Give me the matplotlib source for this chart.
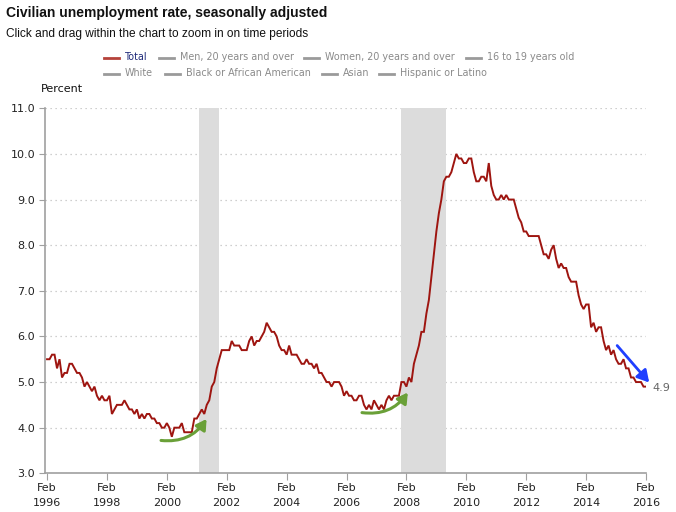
import matplotlib
matplotlib.use("Agg")
import matplotlib.pyplot as plt
from matplotlib.lines import Line2D

# ---------------- data ----------------
start_year = 1996
start_month = 2  # Feb 1996
rate = [
    5.5, 5.5, 5.6, 5.6, 5.3, 5.5, 5.1, 5.2, 5.2, 5.4, 5.4,                 # 1996
    5.3, 5.2, 5.2, 5.1, 4.9, 5.0, 4.9, 4.8, 4.9, 4.7, 4.6, 4.7,            # 1997
    4.6, 4.6, 4.7, 4.3, 4.4, 4.5, 4.5, 4.5, 4.6, 4.5, 4.4, 4.4,            # 1998
    4.3, 4.4, 4.2, 4.3, 4.2, 4.3, 4.3, 4.2, 4.2, 4.1, 4.1, 4.0,            # 1999
    4.0, 4.1, 4.0, 3.8, 4.0, 4.0, 4.0, 4.1, 3.9, 3.9, 3.9, 3.9,            # 2000
    4.2, 4.2, 4.3, 4.4, 4.3, 4.5, 4.6, 4.9, 5.0, 5.3, 5.5, 5.7,            # 2001
    5.7, 5.7, 5.7, 5.9, 5.8, 5.8, 5.8, 5.7, 5.7, 5.7, 5.9, 6.0,            # 2002
    5.8, 5.9, 5.9, 6.0, 6.1, 6.3, 6.2, 6.1, 6.1, 6.0, 5.8, 5.7,            # 2003
    5.7, 5.6, 5.8, 5.6, 5.6, 5.6, 5.5, 5.4, 5.4, 5.5, 5.4, 5.4,            # 2004
    5.3, 5.4, 5.2, 5.2, 5.1, 5.0, 5.0, 4.9, 5.0, 5.0, 5.0, 4.9,            # 2005
    4.7, 4.8, 4.7, 4.7, 4.6, 4.6, 4.7, 4.7, 4.5, 4.4, 4.5, 4.4,            # 2006
    4.6, 4.5, 4.4, 4.5, 4.4, 4.6, 4.7, 4.6, 4.7, 4.7, 4.7, 5.0,            # 2007
    5.0, 4.9, 5.1, 5.0, 5.4, 5.6, 5.8, 6.1, 6.1, 6.5, 6.8, 7.3,            # 2008
    7.8, 8.3, 8.7, 9.0, 9.4, 9.5, 9.5, 9.6, 9.8, 10.0, 9.9, 9.9,           # 2009
    9.8, 9.8, 9.9, 9.9, 9.6, 9.4, 9.4, 9.5, 9.5, 9.4, 9.8, 9.3,            # 2010
    9.1, 9.0, 9.0, 9.1, 9.0, 9.1, 9.0, 9.0, 9.0, 8.8, 8.6, 8.5,            # 2011
    8.3, 8.3, 8.2, 8.2, 8.2, 8.2, 8.2, 8.0, 7.8, 7.8, 7.7, 7.9,            # 2012
    8.0, 7.7, 7.5, 7.6, 7.5, 7.5, 7.3, 7.2, 7.2, 7.2, 6.9, 6.7,            # 2013
    6.6, 6.7, 6.7, 6.2, 6.3, 6.1, 6.2, 6.2, 5.9, 5.7, 5.8, 5.6,            # 2014
    5.7, 5.5, 5.4, 5.4, 5.5, 5.3, 5.3, 5.1, 5.1, 5.0, 5.0, 5.0,            # 2015
    4.9, 4.9,                                                              # 2016
]
# recessions as (year, month) start / end
recessions = [((2001, 3), (2001, 11)), ((2007, 12), (2009, 6))]
tick_years = [1996, 1998, 2000, 2002, 2004, 2006, 2008, 2010, 2012, 2014, 2016]
tick_month_label = "Feb"
y_ticks = [3.0, 4.0, 5.0, 6.0, 7.0, 8.0, 9.0, 10.0, 11.0]
legend_row1 = ["Total", "Men, 20 years and over", "Women, 20 years and over", "16 to 19 years old"]
legend_row2 = ["White", "Black or African American", "Asian", "Hispanic or Latino"]
title = "Civilian unemployment rate, seasonally adjusted"
subtitle = "Click and drag within the chart to zoom in on time periods"
last_label = "4.9"


def ym(y, m):
    return y + (m - 1) / 12.0


x = [ym(start_year, start_month) + i / 12.0 for i in range(len(rate))]

W, H = 676, 512
fig = plt.figure(figsize=(W / 100, H / 100), dpi=100)


def fx(px):
    return px / W


def fy(py):
    return 1 - py / H


ax = fig.add_axes([fx(45), fy(473.3), fx(646) - fx(45), fy(108.3) - fy(473.3)])

LINE_RED = "#9e1510"
GRID = "#c0c0c0"
AXC = "#a0a0a0"
TICKFONT = "DejaVu Sans"

for (a, b) in recessions:
    ax.axvspan(ym(*a), ym(*b), color="#dcdcdc", lw=0, zorder=1)

for yv in y_ticks:
    ax.axhline(yv, color=GRID, lw=0.9, ls=(0, (1, 3)), zorder=0.5)

ax.plot(x, rate, color=LINE_RED, lw=1.4, zorder=3, solid_joinstyle="miter")

ax.set_xlim(ym(1996, 1) + 0.015, ym(2016, 2))
ax.set_ylim(3.0, 11.0)

ax.set_yticks(y_ticks)
ax.set_yticklabels([f"{v:.1f}" for v in y_ticks], fontsize=8, family=TICKFONT, color="#222222")
xt = [ym(yr, 2) for yr in tick_years]
ax.set_xticks(xt)
ax.set_xticklabels([f"{tick_month_label}\n{yr}" for yr in tick_years], fontsize=8,
                   family=TICKFONT, color="#222222", linespacing=1.6)
ax.tick_params(axis="y", length=4, width=0.8, color=AXC, pad=3)
ax.tick_params(axis="x", length=5, width=0.8, color=AXC, pad=2)

for s in ["top", "right"]:
    ax.spines[s].set_visible(False)
for s in ["left", "bottom"]:
    ax.spines[s].set_color(AXC)
    ax.spines[s].set_linewidth(1.2)

# annotations (arrows)
green = "#6aa038"
ax.annotate("", xy=(2001.41, 4.19), xytext=(1999.89, 3.72),
            arrowprops=dict(arrowstyle="-|>,head_length=0.6,head_width=0.35", color=green, lw=2.2,
                            connectionstyle="arc3,rad=0.3", shrinkA=0, shrinkB=0),
            zorder=4, annotation_clip=False)
ax.annotate("", xy=(2008.13, 4.77), xytext=(2006.60, 4.33),
            arrowprops=dict(arrowstyle="-|>,head_length=0.6,head_width=0.35", color=green, lw=2.2,
                            connectionstyle="arc3,rad=0.3", shrinkA=0, shrinkB=0),
            zorder=4, annotation_clip=False)
ax.annotate("", xy=(2016.19, 4.99), xytext=(2015.12, 5.80),
            arrowprops=dict(arrowstyle="-|>,head_length=0.7,head_width=0.4", color="#1f3fff", lw=2.0,
                            shrinkA=0, shrinkB=0),
            zorder=4, annotation_clip=False)
ax.text(ym(2016, 2) + 0.22, rate[-1] - 0.02, last_label, fontsize=8, family=TICKFONT,
        color="#666666", va="center", ha="left", clip_on=False)

# titles
fig.text(fx(6.5), fy(13.5), title, fontsize=10, fontweight="bold", family="Liberation Sans",
         va="center", ha="left", color="#111111")
fig.text(fx(6.5), fy(33.5), subtitle, fontsize=8.6, family="Liberation Sans",
         va="center", ha="left", color="#111111")
fig.text(fx(41), fy(89), "Percent", fontsize=8, family=TICKFONT, va="center", ha="left",
         color="#111111")

# legend
LEGFONT = 6.95
row1_pos = [104, 159, 304, 466]
row2_pos = [104, 165, 322, 379]
for labels, poss, py in [(legend_row1, row1_pos, 57.5), (legend_row2, row2_pos, 73.5)]:
    for lab, px in zip(labels, poss):
        is_total = lab == "Total"
        fig.add_artist(Line2D([fx(px), fx(px + 15)], [fy(py), fy(py)],
                              color="#b5423a" if is_total else "#9a9a9a", lw=2.0,
                              transform=fig.transFigure))
        fig.text(fx(px + 21), fy(py), lab, fontsize=LEGFONT, family=TICKFONT, va="center",
                 ha="left", color="#1f2a7a" if is_total else "#8a8a8a")

fig.savefig("out.png", dpi=100)
